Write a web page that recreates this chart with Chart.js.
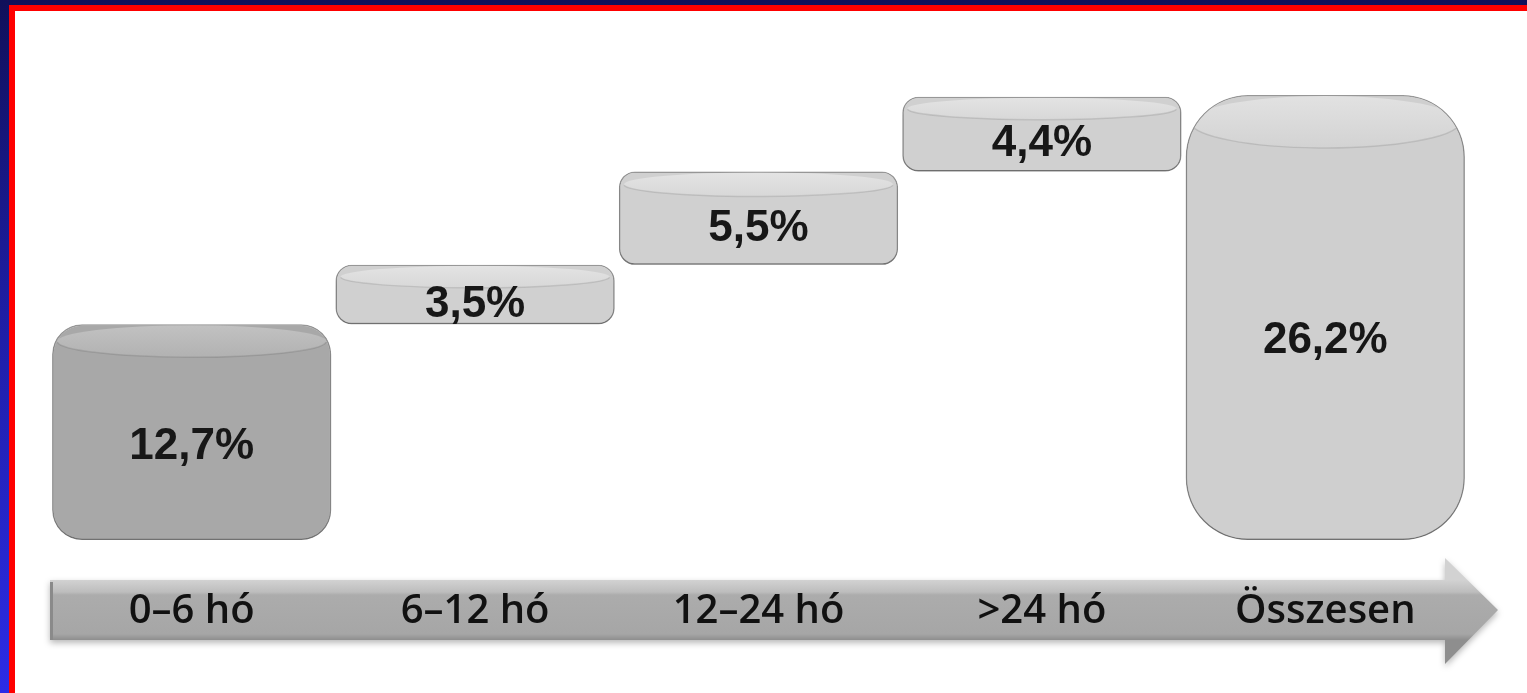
<!DOCTYPE html>
<html><head><meta charset="utf-8">
<script src="https://cdn.jsdelivr.net/npm/chart.js@4.4.1/dist/chart.umd.min.js"></script>
<style>
html,body{margin:0;padding:0;width:1527px;height:693px;overflow:hidden;}
body{background:linear-gradient(to bottom,#10105a 0%,#1e1ea4 45%,#2c2ce6 100%);position:relative;}
#frame{position:absolute;left:9px;top:5px;right:-20px;bottom:-20px;background:#fff;border-top:6px solid #ff0000;border-left:6px solid #ff0000;}
#wrap{position:absolute;left:0;top:0;width:1527px;height:693px;}
</style></head><body>
<div id="frame"></div>
<div id="wrap"><canvas id="c" width="1527" height="693"></canvas></div>
<script>
// ---- data ----
const categories = ['0–6 hó', '6–12 hó', '12–24 hó', '>24 hó', 'Összesen'];
const increments = [12.7, 3.5, 5.5, 4.4];
const totalValue = 26.2;

// values shown on each bar
const barValues = increments.concat([totalValue]);
// floating ranges (waterfall) built from the values
let running = 0;
const ranges = increments.map(v => { const r = [running, +(running + v).toFixed(1)]; running += v; return r; });
ranges.push([0, totalValue]);

const fmt = v => v.toFixed(1).replace('.', ',') + '%';

// ---- styles ----
const bodyColors = ['#a8a8a8', '#d0d0d0', '#d0d0d0', '#d0d0d0', '#cfcfcf'];
const capTop = ['#c2c2c2', '#e4e4e4', '#e4e4e4', '#e4e4e4', '#e2e2e2'];
const capBot = ['#b2b2b2', '#d8d8d8', '#d8d8d8', '#d8d8d8', '#d3d3d3'];
const radii = [30, 16, 16, 16, 62];
const capRy = [16, 11, 12, 11, 26];

const deco = {
  id: 'deco',
  beforeDraw(chart) {
    const { ctx, chartArea: a } = chart;
    const top = a.bottom + 40, bot = a.bottom + 100;
    const left = a.left, shaftEnd = a.right - 22, tip = a.right + 31;
    const headTop = a.bottom + 18, headBot = a.bottom + 124;
    ctx.save();
    ctx.shadowColor = 'rgba(0,0,0,0.28)'; ctx.shadowBlur = 6; ctx.shadowOffsetY = 3;
    const g = ctx.createLinearGradient(0, top, 0, bot);
    g.addColorStop(0, '#d2d2d2'); g.addColorStop(0.2, '#bdbdbd'); g.addColorStop(0.25, '#acacac');
    g.addColorStop(0.9, '#a6a6a6'); g.addColorStop(1, '#8e8e8e');
    ctx.beginPath();
    ctx.moveTo(left, top); ctx.lineTo(shaftEnd, top); ctx.lineTo(shaftEnd, headTop);
    ctx.lineTo(tip, (top + bot) / 2); ctx.lineTo(shaftEnd, headBot); ctx.lineTo(shaftEnd, bot);
    ctx.lineTo(left, bot); ctx.closePath();
    ctx.fillStyle = g; ctx.fill();
    ctx.restore();
    ctx.save();
    ctx.fillStyle = '#8a8a8a';
    ctx.fillRect(left, top + 2, 3, bot - top - 2);
    ctx.restore();
  },
  beforeDatasetDraw(chart) {
    const ctx = chart.ctx;
    ctx.save();
    ctx.shadowColor = 'rgba(0,0,0,0.35)'; ctx.shadowBlur = 7; ctx.shadowOffsetY = 4;
  },
  afterDatasetDraw(chart) { chart.ctx.restore(); },
  afterDatasetsDraw(chart) {
    const { ctx } = chart;
    const meta = chart.getDatasetMeta(0);
    meta.data.forEach((el, i) => {
      const { x, y, base, width } = el.getProps(['x', 'y', 'base', 'width'], true);
      const top = Math.min(y, base), bottom = Math.max(y, base), h = bottom - top;
      const ry = capRy[i];
      const r = Math.min(radii[i], h / 2, width / 2);
      ctx.save();
      ctx.beginPath();
      ctx.roundRect(x - width / 2 + 1, top + 1, width - 2, h - 2, r);
      ctx.clip();
      const g = ctx.createLinearGradient(0, top, 0, top + 2 * ry);
      g.addColorStop(0, capTop[i]); g.addColorStop(1, capBot[i]);
      ctx.beginPath();
      ctx.ellipse(x, top + ry + 1, width / 2 - 5, ry, 0, 0, Math.PI * 2);
      ctx.fillStyle = g; ctx.fill();
      ctx.beginPath();
      ctx.ellipse(x, top + ry + 1, width / 2 - 5, ry, 0, 0.05, Math.PI - 0.05);
      ctx.strokeStyle = 'rgba(0,0,0,0.10)'; ctx.lineWidth = 1.5; ctx.stroke();
      ctx.restore();
      ctx.save();
      ctx.font = 'bold 44px "Liberation Sans", Arial, sans-serif';
      ctx.fillStyle = '#171717'; ctx.textAlign = 'center'; ctx.textBaseline = 'middle';
      ctx.fillText(fmt(barValues[i]), x, (top + bottom) / 2 + ry * 0.9);
      ctx.restore();
    });
  }
};

new Chart(document.getElementById('c'), {
  type: 'bar',
  data: {
    labels: categories,
    datasets: [{
      data: ranges,
      backgroundColor: ctx => bodyColors[ctx.dataIndex],
      borderColor: '#9c9c9c',
      borderWidth: 1.5,
      borderSkipped: false,
      borderRadius: ctx => radii[ctx.dataIndex],
      barPercentage: 0.985,
      categoryPercentage: 1.0,
      clip: false
    }]
  },
  options: {
    responsive: false,
    animation: false,
    devicePixelRatio: 1,
    layout: { padding: { left: 50, right: 60, top: 95, bottom: 9 } },
    plugins: { legend: { display: false }, tooltip: { enabled: false } },
    scales: {
      x: {
        grid: { display: false, drawTicks: false },
        border: { display: false },
        ticks: {
          color: '#111111',
          padding: 48,
          font: { family: '"Open Sans", "Noto Sans", sans-serif', size: 40, weight: '600' }
        }
      },
      y: { display: false, min: 0, max: totalValue }
    }
  },
  plugins: [deco]
});
</script>
</body></html>
